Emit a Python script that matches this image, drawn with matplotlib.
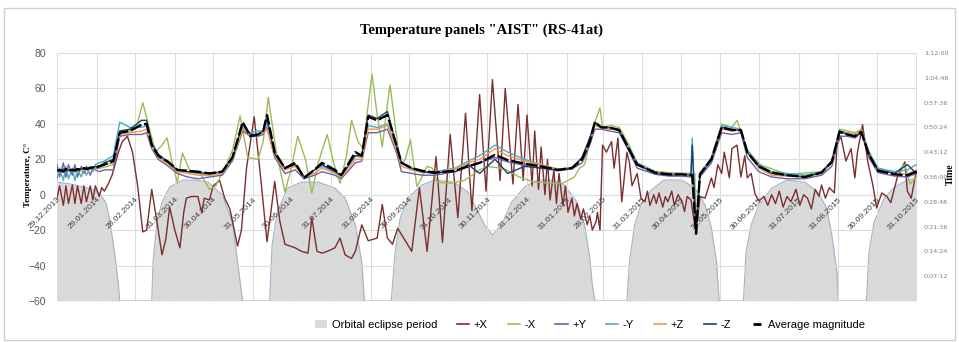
import numpy as np
import matplotlib.pyplot as plt
from matplotlib.lines import Line2D
from matplotlib.patches import Patch, Rectangle
from datetime import datetime

# days counted from 29.12.2013
START = datetime(2013, 12, 29)

date_labels = ["29.12.2013", "29.01.2014", "28.02.2014", "31.03.2014", "30.04.2014",
               "31.05.2014", "30.06.2014", "31.07.2014", "31.08.2014", "30.09.2014",
               "31.10.2014", "30.11.2014", "31.12.2014", "31.01.2015", "28.02.2015",
               "31.03.2015", "30.04.2015", "31.05.2015", "30.06.2015", "31.07.2015",
               "31.08.2015", "30.09.2015", "31.10.2015"]
time_labels = ["0:07:12", "0:14:24", "0:21:36", "0:28:48", "0:36:00",
               "0:43:12", "0:50:24", "0:57:36", "1:04:48", "1:12:00"]

# orbital eclipse duration, minutes
ecl_days = [0, 10, 22, 32, 38, 41, 45, 48, 49,
            74, 75, 78, 82, 88, 98, 108, 118, 129, 137, 141, 145,
            166, 168, 172, 180, 191, 204, 217, 225, 233, 238, 240,
            261, 264, 268, 274, 285, 295, 310, 321, 326, 334, 340, 347, 355, 365, 375, 386,
            396, 406, 412, 416, 418, 420,
            445, 447, 451, 456, 464, 474, 488, 498, 506, 511, 515, 517,
            536, 538, 542, 548, 550, 558, 570, 584, 594, 601, 605, 609, 610,
            632, 634, 638, 646, 654, 664, 671]
ecl_min = [34.5, 34, 33, 31.8, 28.7, 24, 14, 4.6, 0,
           0, 11.3, 22.9, 28.7, 33.1, 35.1, 35.1, 34.5, 30.8, 22.9, 11.3, 0,
           0, 16.3, 25.8, 32.8, 34.5, 34.5, 32.8, 29.9, 22, 11.3, 0,
           0, 14.2, 24.1, 29.9, 33.7, 35.1, 34.5, 31.6, 27.9, 22, 19.2, 22, 28.7, 33.1, 35.1, 35.1,
           33.7, 28.7, 22, 12.5, 4.6, 0,
           0, 11.3, 22, 27.9, 32.2, 35.1, 35.1, 32.8, 27.9, 21.2, 11.3, 0,
           0, 14.2, 22, 27.9, 28.7, 32.8, 35.1, 34.5, 31.6, 27, 19.2, 8.4, 0,
           0, 14.2, 22.9, 29.9, 33.1, 35.1, 35.7]

# common dates for the clustered panels
days = [0, 2, 5, 7, 9, 12, 14, 16, 19, 21, 23, 26, 28, 30, 33,
        37, 44, 49, 57, 66, 70, 74, 79, 87, 94,
        102, 110, 119, 129, 137, 145, 151, 157, 161, 164,
        170, 178, 186, 193, 201, 207, 217, 222, 233, 238,
        243, 250, 258, 265, 269, 277, 285, 295, 303, 311,
        321, 330, 342, 352, 365, 378, 391, 402, 410, 416,
        420, 425, 431, 439, 445, 453, 467, 478, 488, 495,
        496, 499, 502, 511, 519, 527, 534, 539, 548, 558,
        570, 584, 597, 605, 611, 617, 623, 628, 634, 641,
        654, 664, 671]

avg = [13.5, 14, 13, 14.5, 13.5, 14, 13.5, 14.5, 14, 15, 14.5, 15, 15.5, 15, 16,
       17, 19, 35, 36, 39.5, 40, 28, 22, 18.5, 14,
       13.5, 13, 12, 13, 21, 41, 33, 34, 36, 45,
       24, 15, 18, 9.5, 14, 18, 14, 11, 24, 22,
       44, 42, 45, 28, 18, 15, 13.5, 12.5, 13, 13.5,
       16, 18, 22.5, 19.5, 17.5, 16, 14, 15, 20, 30,
       41, 38, 38, 36.5, 28, 17, 12.5, 11.5, 11.5, 11,
       11, -22, 11.5, 20, 38, 36.5, 36.5, 24, 16, 12.5,
       11, 10, 12.5, 18.5, 35.5, 34, 33, 35.5, 22.5, 13.5,
       11.5, 11, 13]

plus_y = [17, 10, 18, 10, 17, 11, 17, 10, 16, 12, 16, 11, 15, 14, 13,
          14, 14, 33, 34, 34, 35, 26, 20, 16, 12,
          10, 9, 10, 11, 19, 36, 33, 33, 34, 38,
          21, 12, 14, 9, 11, 13, 11, 9, 18, 19,
          35, 35, 37, 24, 13, 12, 11, 11, 12, 13,
          16, 18, 21, 18.5, 16.5, 15, 13.5, 14.5, 18, 28,
          37, 37, 36, 35, 27, 15, 11.5, 10.5, 10.5, 10,
          10, -20, 10, 18, 35, 34, 35, 21, 13, 10,
          9, 9, 11, 16, 33, 33, 32, 35, 21, 12.5,
          10.5, 10, 12]

minus_y = [9, 15, 8, 16, 9, 15, 8, 14, 10, 15, 11, 16, 13, 17, 18,
           19, 22, 41, 38, 38, 39, 27, 21, 18, 14,
           13, 12, 11, 12, 20, 38, 35, 36, 36, 40,
           23, 15, 17, 10, 14, 16, 13, 11, 22, 21,
           39, 38, 40, 27, 18, 14, 13, 13, 14, 15,
           19, 22, 28, 24, 20, 17, 14.5, 15, 21, 32,
           40, 38, 37, 37, 29, 18, 13, 12, 12, 12,
           32, -20, 12, 21, 39, 38, 37, 25, 17, 13,
           12, 11, 13, 19, 36, 35, 34, 36, 24, 15,
           13, 14, 17]

plus_z = [13, 13.5, 13, 14, 13, 13.5, 13, 14, 13.5, 14, 14, 14.5, 15, 15, 16,
          17, 18, 34, 35, 36, 37, 27, 21, 17, 13,
          12, 11, 11, 12, 20, 37, 34, 34, 35, 37,
          22, 14, 16, 10, 12, 15, 12, 10, 20, 20,
          37, 37, 39, 26, 16, 14, 12.5, 12.5, 13.5, 14.5,
          18, 20, 26, 22, 19, 17, 14.5, 15.5, 20, 30,
          39, 38, 37, 37, 28, 17, 13, 12, 12, 11.5,
          11.5, -22, 12, 20, 37, 36, 37, 24, 15, 11,
          10.5, 10, 12, 18, 35, 35, 34, 36, 23, 14,
          12, 11.5, 14]

minus_z = [14, 13, 14.5, 13.5, 14, 13.5, 14.5, 14, 14.5, 15, 15, 15.5, 15, 16, 16,
           18, 20, 36, 37, 42, 42, 29, 23, 18, 14,
           13, 12.5, 12, 13, 21, 40, 34, 34, 36, 43,
           23, 15, 17, 10, 14, 17, 13, 11, 22, 22,
           45, 43, 47, 28, 18, 15, 13, 12, 13, 13,
           17, 12, 20, 12, 16, 15, 14, 15, 21, 32,
           41, 38, 38, 36, 27, 17, 12, 11, 11.5, 11,
           28, -22, 11, 20, 38, 37, 36, 24, 16, 12,
           11, 10, 12.5, 19, 36, 34, 33, 35, 23, 14,
           12, 17, 12]

# -X panel
mx_days = [0, 34, 44, 49, 57, 62, 67, 73, 77, 82, 86, 90, 94, 98, 104, 112, 119, 124, 131, 137,
           143, 149, 157, 161, 165, 171, 178, 183, 188, 194, 199, 204, 211, 216, 221, 226, 230, 235, 239, 242,
           246, 250, 254, 257, 260, 264, 268, 272, 276, 279, 281, 285, 289, 293, 297, 307, 318, 330, 336, 346,
           351, 361, 371, 385, 395, 404, 408, 412, 416, 420, 424, 426, 432, 439, 446, 453, 467, 488, 495, 498,
           499, 502, 511, 519, 527, 531, 539, 549, 570, 597, 605, 611, 623, 628, 634, 641, 654, 662, 666, 671]
minus_x = [14, 15, 17, 35, 36, 38, 52, 35, 24, 28, 32, 18, 7, 23.5, 13, 12, 3, 5, 15, 25,
           44.5, 21, 20, 30, 55, 25, 1.5, 15, 33, 20, 1, 18, 34, 18, 6.5, 22, 42, 30, 26, 45,
           68, 45, 27, 45, 62, 40, 16, 20, 31, 15, 4.5, 10, 16, 15, 7, 6.5, 8, 14, 16, 15,
           14, 10, 7.5, 6.5, 6.5, 10, 15, 17, 30, 41, 49, 38, 39, 38, 29, 18, 13, 12, 12, 12,
           -22, 12, 21, 40, 38, 42, 25, 17, 11.5, 13, 19, 37, 35, 37, 24, 15, 12, 17, 6, 10]

# +X panel
px_days = [0, 2, 5, 7, 9, 12, 14, 16, 19, 21, 23, 26, 28, 30, 33, 35, 37, 40, 43, 48,
           51, 55, 59, 63, 67, 70, 74, 78, 82, 85, 88, 92, 96, 99, 101, 105, 110, 113, 115, 119,
           122, 127, 131, 135, 141, 144, 148, 154, 159, 164, 167, 170, 174, 178, 186, 191, 196, 199, 203, 207,
           211, 217, 221, 225, 230, 233, 238, 243, 250, 254, 258, 262, 266, 272, 277, 283, 289, 296, 301, 307,
           313, 319, 324, 330, 335, 340, 346, 350, 356, 360, 364, 367, 371, 373, 376, 378, 381, 383, 385, 388,
           390, 392, 395, 397, 399, 402, 404, 406, 409, 411, 414, 416, 418, 421, 422, 424, 426, 429, 433, 435,
           438, 441, 445, 447, 449, 453, 456, 459, 461, 463, 466, 468, 470, 473, 475, 477, 480, 482, 485, 488,
           490, 492, 495, 499, 502, 506, 509, 511, 513, 516, 519, 521, 525, 527, 531, 534, 537, 539, 542, 545,
           548, 552, 555, 558, 561, 564, 567, 570, 573, 577, 580, 583, 586, 589, 592, 595, 597, 600, 603, 607,
           609, 612, 616, 620, 623, 625, 629, 633, 637, 640, 644, 648, 651, 656, 662, 664, 667, 671]
plus_x = [-2, 5, -6, 5, -5, 5.5, -5, 5, -5, 5, -4, 5, -3, 5, -1, 4, 2, 6, 11, 24,
          30, 33, 24, 5, -21, -20, 3, -15, -34, -25, -7, -20, -30, -10, -2, -1, -1, -10, -2, -3,
          5, 8, -2, -8, -29, -20, 15, 44, 10, -26.5, -10, 7.5, -15, -28, -30, -32, -33, -13, -32, -33,
          -32, -30, -24.5, -34, -36, -32, -17, -26, -24.5, -5.5, -24.5, -28, -19, -26, -32, 4, -32, 21.5, -27, 34,
          -13, 46, -9, 56.5, 2, 65, 8, 60, 6, 51, 8, 45, 5, 36, 3, 27, 0, 20, -3, 14,
          -5, 12, -6, 5, -10, -2, -12, -5, -14, -8, -17, -12, -20, -15, -10, -20, 28, 24, 30, 15,
          32, -4, 24, 18, 5, 12, -2, -4, 2, -6, 0, -5, 1, -7, -1, -4, 2, -6, 0, -4,
          -9.5, -1, -3, -22, -1, -2, 5, 9.5, 4, 17, 12, 24, 9.5, 26, 28, 10, 22, 9.5, 12, 0.5,
          -3.5, -1, -6, 0, -5, 2, -7, -1, -4, 3, -6, 0, -2, -8, 3, -1, 5.5, -2, 4, 1,
          28, 33, 19, 26, 9.5, 24, 39.5, 19, 5.5, -7.5, 1, -1, -4.5, 9.5, 18.5, 2, -2, 13.5]

tick_days = [(datetime.strptime(s, "%d.%m.%Y") - START).days for s in date_labels]
time_ticks = []
for s in time_labels:
    h, m, sec = s.split(":")
    time_ticks.append(int(h) * 60 + int(m) + int(sec) / 60)

fig = plt.figure(figsize=(9.59, 3.42), dpi=100)
ax = fig.add_axes([0.0594, 0.120, 0.8968, 0.725])
ax2 = ax.twinx()
ax.set_zorder(ax2.get_zorder() + 1)
ax.patch.set_visible(False)
# date labels sit on the zero line, as in Excel
ax.spines["bottom"].set_position(("data", 0))
for a in (ax, ax2):
    for sp in a.spines.values():
        sp.set_visible(False)

# eclipse area on the time axis
ax2.fill_between(ecl_days, 0, ecl_min, color="#D9D9D9", lw=0)
ax2.plot(ecl_days, ecl_min, color="#9FB4CA", lw=0.8)
ax2.set_ylim(0, 72)
ax2.set_yticks(time_ticks)
ax2.set_yticklabels(time_labels)
ax2.tick_params(axis="y", length=0, labelsize=4.6, labelcolor="#7F7F7F", pad=5)

series = [
    (px_days, plus_x, "+X", "#7A2E2E"),
    (mx_days, minus_x, "-X", "#9BBB59"),
    (days, plus_y, "+Y", "#7060A8"),
    (days, minus_y, "-Y", "#4BACC6"),
    (days, plus_z, "+Z", "#F79646"),
    (days, minus_z, "-Z", "#1F3D6E"),
]
for d, v, name, col in series:
    ax.plot(d, v, color=col, lw=1.0)
ax.plot(days, avg, color="black", lw=1.7, ls=(0, (5, 1.2)))

ax.set_xlim(0, 671.5)
ax.set_ylim(-60, 80)
ax.set_yticks(np.arange(-60, 81, 20))
ax.set_xticks(tick_days)
ax.set_xticklabels(date_labels, rotation=45, ha="right", va="top",
                   rotation_mode="anchor", family="Liberation Sans")
ax.tick_params(axis="x", length=0, labelsize=6, labelcolor="#404040", pad=1)
ax.tick_params(axis="y", length=0, labelsize=7.5, labelcolor="#595959", pad=8)
for lab in ax.get_yticklabels():
    lab.set_family("Liberation Sans")
ax.grid(True, color="#DCDCDC", lw=0.8)
ax.set_axisbelow(True)

fig.text(0.502, 0.912, 'Temperature panels "AIST" (RS-41at)', ha="center", va="center",
         family="Liberation Serif", weight="bold", size=10.5)
fig.text(0.029, 0.49, "Temperature, C°", rotation=90, ha="center", va="center",
         family="Liberation Serif", weight="bold", size=6.5)
fig.text(0.991, 0.49, "Time", rotation=90, ha="center", va="center",
         family="Liberation Serif", weight="bold", size=7)

handles = [Patch(facecolor="#D9D9D9", edgecolor="none")]
labels = ["Orbital eclipse period"]
for d, v, name, col in series:
    handles.append(Line2D([], [], color=col, lw=1.2))
    labels.append(name)
handles.append(Line2D([], [], color="black", marker="_", ms=6, mew=2, ls="none"))
labels.append("Average magnitude")
fig.legend(handles, labels, loc="center", bbox_to_anchor=(0.615, 0.05), ncol=8,
           frameon=False, handlelength=1.1, handleheight=0.8, handletextpad=0.4,
           columnspacing=1.8, prop={"family": "Liberation Sans", "size": 8})

fig.add_artist(Rectangle((0.004, 0.006), 0.992, 0.97, transform=fig.transFigure,
                         fill=False, edgecolor="#D0D0D0", lw=1))

fig.savefig("out.png", dpi=100)
